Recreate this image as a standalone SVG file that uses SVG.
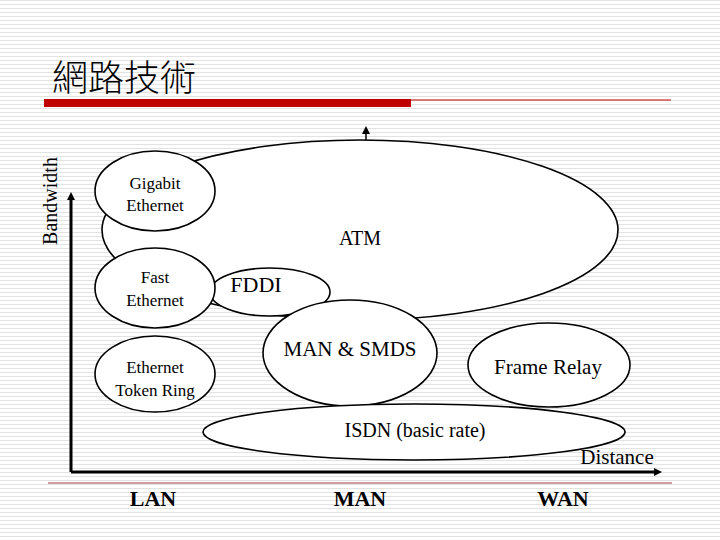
<svg xmlns="http://www.w3.org/2000/svg" width="720" height="540" viewBox="0 0 720 540">
<defs>
<pattern id="st" width="4" height="4" patternUnits="userSpaceOnUse"><rect width="4" height="4" fill="#fff"/><rect y="0" width="4" height="1" fill="#e2e2e2"/></pattern>
<marker id="ah" markerWidth="8" markerHeight="8" refX="4" refY="4" orient="auto" markerUnits="userSpaceOnUse"><path d="M0,0L8,4L0,8z" fill="#000"/></marker>
</defs>
<style>
.e{fill:#fff;stroke:#000;stroke-width:1.6}
text{font-family:'Liberation Serif','Times New Roman',serif}
.t{text-anchor:middle;fill:#000}
</style>
<rect width="720" height="540" fill="url(#st)"/>
<text x="52" y="91" style="font-family:'Noto Sans CJK TC',sans-serif;font-weight:300" font-size="36" fill="#000">網路技術</text>
<rect x="44" y="99" width="367" height="8" fill="#c00000"/>
<line x1="411" y1="100" x2="671" y2="100" stroke="#c00000" stroke-width="1"/>
<line x1="48" y1="483" x2="672" y2="483" stroke="#a04040" stroke-width="1"/>
<g id="axes">
<line x1="71" y1="472" x2="71" y2="196" stroke="#000" stroke-width="3" marker-end="url(#ah)"/>
<line x1="71" y1="472" x2="658" y2="472" stroke="#000" stroke-width="3" marker-end="url(#ah)"/>
<text class="t" transform="translate(57,201) rotate(-90)" font-size="20">Bandwidth</text>
<text class="t" x="617" y="464" font-size="21">Distance</text>
</g>
<g id="ATM"><ellipse class="e" cx="360" cy="230" rx="258" ry="90"/><text class="t" x="360" y="245" font-size="20">ATM</text>
<line x1="366" y1="140" x2="366" y2="130" stroke="#000" stroke-width="1.5" marker-end="url(#ah)"/></g>
<g id="FDDI"><ellipse class="e" cx="270" cy="292" rx="60" ry="24"/><text class="t" x="256" y="292" font-size="22">FDDI</text></g>
<g id="gig"><ellipse class="e" cx="155" cy="191" rx="60" ry="40"/><text class="t" x="155" y="189" font-size="17">Gigabit</text><text class="t" x="155" y="211" font-size="17">Ethernet</text></g>
<g id="fast"><ellipse class="e" cx="155" cy="288" rx="60" ry="40"/><text class="t" x="155" y="283" font-size="17">Fast</text><text class="t" x="155" y="306" font-size="17">Ethernet</text></g>
<g id="man"><ellipse class="e" cx="350" cy="353" rx="87" ry="53"/><text class="t" x="350" y="356" font-size="21">MAN &amp; SMDS</text></g>
<g id="fr"><ellipse class="e" cx="549" cy="365" rx="81" ry="42"/><text class="t" x="548" y="374" font-size="21">Frame Relay</text></g>
<g id="eth"><ellipse class="e" cx="155" cy="374" rx="60" ry="38"/><text class="t" x="155" y="373" font-size="17">Ethernet</text><text class="t" x="155" y="396" font-size="17">Token Ring</text></g>
<g id="isdn"><ellipse class="e" cx="414" cy="432" rx="211" ry="28"/><text class="t" x="415" y="437" font-size="20">ISDN (basic rate)</text></g>
<g id="cats" font-weight="bold">
<text class="t" x="153" y="506" font-size="22">LAN</text>
<text class="t" x="360" y="506" font-size="22">MAN</text>
<text class="t" x="563" y="506" font-size="22">WAN</text>
</g>
</svg>
